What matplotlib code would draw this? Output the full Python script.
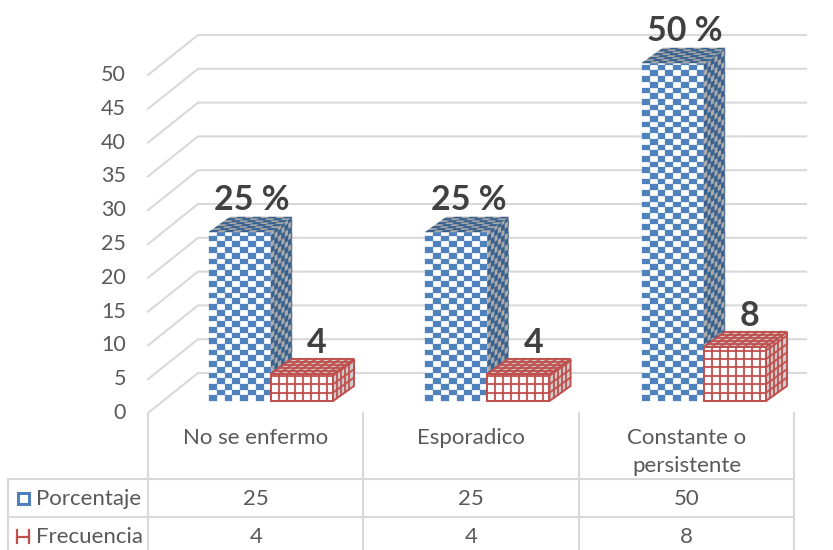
import numpy as np
import matplotlib
matplotlib.use("Agg")
import matplotlib.pyplot as plt
from matplotlib.collections import PolyCollection

# data
categories = ["No se enfermo", "Esporadico", "Constante o\npersistente"]
porcentaje = [25, 25, 50]
frecuencia = [4, 4, 8]
y_ticks = [0, 5, 10, 15, 20, 25, 30, 35, 40, 45, 50]

BLUE = "#4F81BD"
DARK_BLUE = "#38618F"
RED = "#C0504D"
GRID = "#D9D9D9"
TXT = "#595959"
LABEL = "#404040"

# layout, in pixels of the 833x550 picture
col_x = [148, 363.5, 579, 794.5]
left_x = 8
rows_y = [479, 517, 550]
floor_front = 413
floor_back = 373
wall_x = 198
wall_end = 806
unit = 6.76
bar_base = 401
bar_w = 62
bar_start = 209
bar_step = 216.5
dep_x, dep_y = 21, 15
FS = 16

plt.rcParams["font.family"] = ["Lato", "DejaVu Sans"]
fig = plt.figure(figsize=(8.33, 5.5), dpi=100)
ax = fig.add_axes([0, 0, 1, 1])
ax.set_xlim(0, 833)
ax.set_ylim(550, 0)
ax.axis("off")


def cells(p0, u, v, cu, cv):
    # split the parallelogram p0,u,v in cells, rows counted from p0
    p0, u, v = np.array(p0, float), np.array(u, float), np.array(v, float)
    lu, lv = np.hypot(*u), np.hypot(*v)
    eu = np.append(np.arange(0, lu - 0.5, cu), lu) / lu
    ev = np.append(np.arange(0, lv - 0.5, cv), lv) / lv
    out = []
    for i in range(len(eu) - 1):
        for j in range(len(ev) - 1):
            a = p0 + eu[i] * u + ev[j] * v
            b = p0 + eu[i + 1] * u + ev[j] * v
            c = p0 + eu[i + 1] * u + ev[j + 1] * v
            d = p0 + eu[i] * u + ev[j + 1] * v
            out.append(((i + j) % 2, [a, b, c, d]))
    return out


def check_face(p0, u, v, cu, cv, bg, fg, z):
    parts = cells(p0, u, v, cu, cv)
    p0 = np.array(p0, float)
    ax.fill(*zip(p0, p0 + u, p0 + np.array(u) + v, p0 + v), fc=bg, ec=bg, lw=0.4, zorder=z)
    ax.add_collection(PolyCollection([q for k, q in parts if k == 0], facecolors=fg,
                                     edgecolors=fg, linewidths=0.2, zorder=z))


def grid_face(p0, u, v, cu, cv, bg, z):
    p0, u, v = np.array(p0, float), np.array(u, float), np.array(v, float)
    ax.fill(*zip(p0, p0 + u, p0 + u + v, p0 + v), fc=bg, ec=RED, lw=1.4, zorder=z)
    lu, lv = np.hypot(*u), np.hypot(*v)
    for t in np.arange(cu, lu - 1, cu) / lu:
        a, b = p0 + t * u, p0 + t * u + v
        ax.plot([a[0], b[0]], [a[1], b[1]], color=RED, lw=1.5, alpha=0.9, zorder=z)
    for t in np.arange(cv, lv - 1, cv) / lv:
        a, b = p0 + t * v, p0 + t * v + u
        ax.plot([a[0], b[0]], [a[1], b[1]], color=RED, lw=1.5, alpha=0.9, zorder=z)


# walls
for t in y_ticks:
    yb = floor_back - unit * t
    yf = floor_front - unit * t
    ax.plot([col_x[0], wall_x, wall_end], [yf, yb, yb], color=GRID, lw=1.5, zorder=1)
    ax.text(126, yf, str(t), ha="right", va="center", fontsize=15.5, color=TXT)

# bars
for i in range(len(categories)):
    x0 = bar_start + i * bar_step
    x1 = x0 + bar_w
    h = porcentaje[i] * unit
    top = bar_base - h
    check_face((x0, bar_base), (bar_w, 0), (0, -h), 7.8, 5.7, "white", BLUE, 3)
    check_face((x1, bar_base), (dep_x, -dep_y), (0, -h), 4.2, 5.7, "#ABABAB", DARK_BLUE, 3)
    check_face((x0, top), (bar_w, 0), (dep_x, -dep_y), 7.8, 3.4, "#ABABAB", DARK_BLUE, 3)
    ax.text((x0 + x1) / 2 + 12, top - 32, f"{porcentaje[i]} %", ha="center", va="center",
            fontsize=24.5, fontweight="bold", color=LABEL, zorder=6)

    h = frecuencia[i] * unit
    top = bar_base - h
    x2 = x1 + bar_w
    grid_face((x1, bar_base), (bar_w, 0), (0, -h), 8, 8.4, "white", 4)
    grid_face((x2, bar_base), (dep_x, -dep_y), (0, -h), 5, 8.4, "#CFCFCF", 4)
    grid_face((x1, top), (bar_w, 0), (dep_x, -dep_y), 8, 5, "#CFCFCF", 4)
    ax.text((x1 + x2) / 2 + 15, top - 31, str(frecuencia[i]), ha="center", va="center",
            fontsize=24.5, fontweight="bold", color=LABEL, zorder=6)

# data table
for y in rows_y[:2]:
    ax.plot([left_x, col_x[-1]], [y, y], color=GRID, lw=1.5, zorder=1)
ax.plot([left_x, left_x], [rows_y[0], rows_y[2]], color=GRID, lw=1.5, zorder=1)
for x in col_x:
    ax.plot([x, x], [floor_front, rows_y[2]], color=GRID, lw=1.5, zorder=1)

for i, name in enumerate(categories):
    xc = (col_x[i] + col_x[i + 1]) / 2
    for k, line in enumerate(name.split("\n")):
        ax.text(xc, 438 + k * 28, line, ha="center", va="center", fontsize=FS, color=TXT)
    ax.text(xc, 499, str(porcentaje[i]), ha="center", va="center", fontsize=FS, color=TXT)
    ax.text(xc, 537, str(frecuencia[i]), ha="center", va="center", fontsize=FS, color=TXT)

# legend keys
ax.fill([18, 29, 29, 18], [493, 493, 504, 504], fc="white", ec=BLUE, lw=2.2, zorder=3)
ax.plot([17, 17], [530, 543], color=RED, lw=1.6)
ax.plot([29, 29], [530, 543], color=RED, lw=1.6)
ax.plot([17, 29], [537, 537], color=RED, lw=1.6)
ax.text(36, 499, "Porcentaje", ha="left", va="center", fontsize=FS, color=TXT)
ax.text(36, 537, "Frecuencia", ha="left", va="center", fontsize=FS, color=TXT)

fig.savefig("out.png", dpi=100)
